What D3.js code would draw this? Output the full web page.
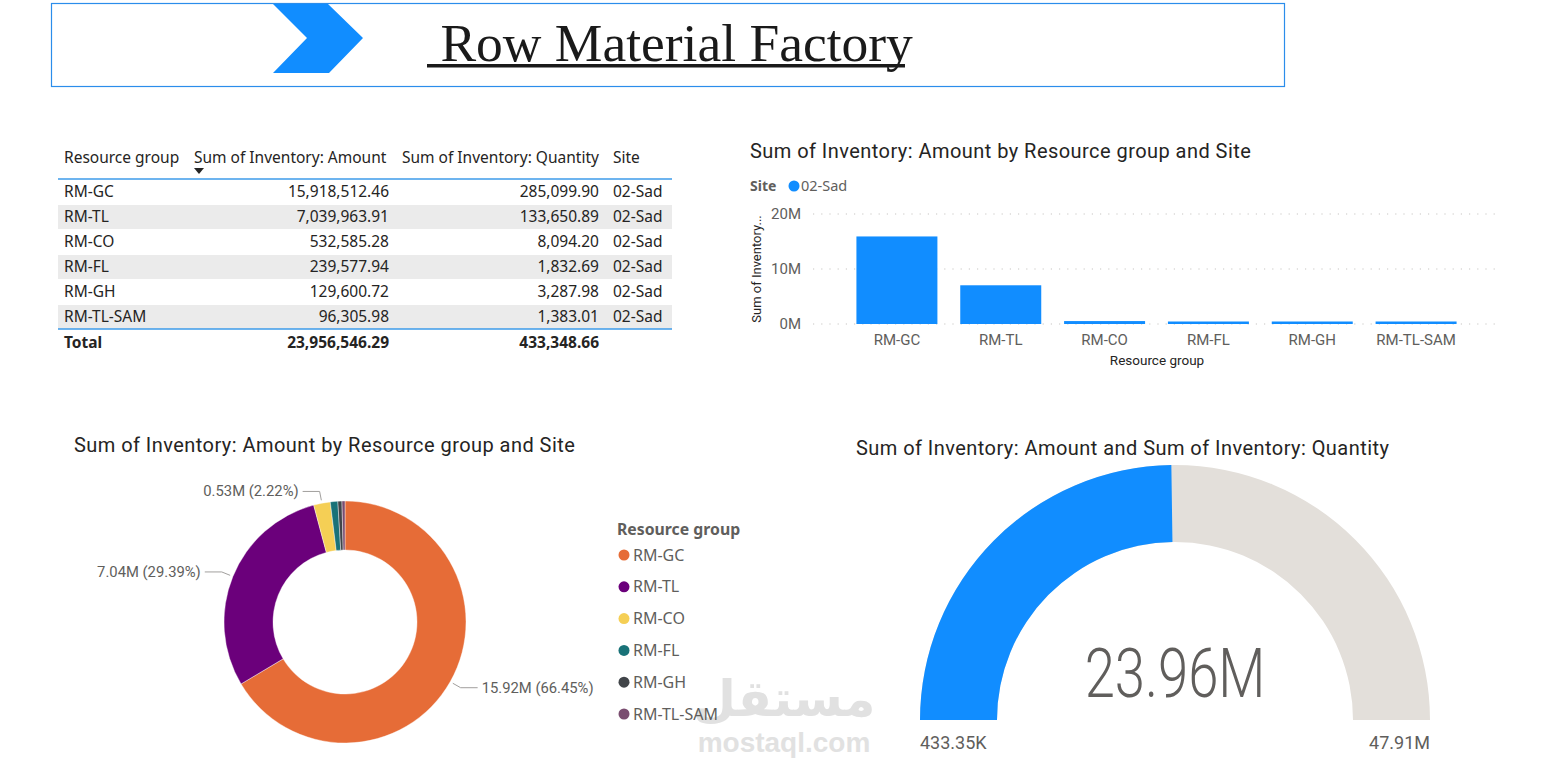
<!DOCTYPE html>
<html>
<head>
<meta charset="utf-8">
<script src="https://cdn.jsdelivr.net/npm/d3@7"></script>
<style>
  body { margin: 0; background: #fff; }
  svg { display: block; }
</style>
</head>
<body>
<div id="page"></div>
<script>
// data
var groups = ["RM-GC", "RM-TL", "RM-CO", "RM-FL", "RM-GH", "RM-TL-SAM"];
var amounts = [15918512.46, 7039963.91, 532585.28, 239577.94, 129600.72, 96305.98];
var quantities = [285099.90, 133650.89, 8094.20, 1832.69, 3287.98, 1383.01];
var sites = ["02-Sad", "02-Sad", "02-Sad", "02-Sad", "02-Sad", "02-Sad"];
var totals = [23956546.29, 433348.66];
var yTicks = [0, 10000000, 20000000];
var sliceColors = ["#E66C37", "#6B007B", "#F5CF55", "#197278", "#414549", "#7A4D70"];
var labelledSlices = ["RM-GC", "RM-TL", "RM-CO"];
var gaugeMin = 433348.66,
    gaugeMax = 47913092.58,
    gaugeValue = 23956546.29;

var W = 1563, H = 776;
var uiFont = "'Noto Sans', 'Open Sans', sans-serif";
var dinFont = "Roboto, 'Noto Sans', sans-serif";

var svg = d3.select("#page").append("svg")
    .attr("width", W)
    .attr("height", H);

// ---------------- header banner
svg.append("rect")
    .attr("x", 51.5).attr("y", 3.5)
    .attr("width", 1233).attr("height", 83)
    .attr("fill", "none")
    .attr("stroke", "#2B8DEB")
    .attr("stroke-width", 1.2);

svg.append("path")
    .attr("d", "M273,4 L328,4 L363,38 L329,73 L273,73 L307,38 Z")
    .attr("fill", "#118DFF");

svg.append("text")
    .attr("x", 427)
    .attr("y", 61)
    .attr("fill", "#1a1a1a")
    .style("font-family", "'Liberation Serif', 'Times New Roman', serif")
    .style("font-size", "53.5px")
    .style("white-space", "pre")
    .text(" Row Material Factory");
svg.append("rect")
    .attr("x", 427).attr("y", 64)
    .attr("width", 478).attr("height", 3.5)
    .attr("fill", "#1a1a1a");

// ---------------- table
var tbl = svg.append("g");
var colX = { group: 64, amount: 389, qty: 599, site: 613 };
var fmt2 = d3.format(",.2f");
var tblSize = "15.5px";

tbl.selectAll(".hdr")
    .data([["Resource group", 64], ["Sum of Inventory: Amount", 194],
           ["Sum of Inventory: Quantity", 402], ["Site", 613]])
    .enter().append("text")
    .attr("x", function(d){ return d[1]; })
    .attr("y", 163)
    .attr("fill", "#252423")
    .style("font-family", uiFont)
    .style("font-size", tblSize)
    .text(function(d){ return d[0]; });

// sort arrow
tbl.append("path")
    .attr("d", "M194,168 L204,168 L199,174 Z")
    .attr("fill", "#252423");

var rowY = d3.scaleBand().domain(groups).range([179, 329]);

tbl.selectAll(".rowBg")
    .data(groups)
    .enter().append("rect")
    .attr("x", 58)
    .attr("y", function(d){ return rowY(d) + 1; })
    .attr("width", 614)
    .attr("height", rowY.bandwidth() - 1)
    .attr("fill", function(d, i){ return i % 2 ? "#EBEBEB" : "#fff"; });

var rows = tbl.selectAll(".row")
    .data(groups)
    .enter().append("g")
    .attr("transform", function(d){ return "translate(0," + (rowY(d) + rowY.bandwidth() / 2 + 5.5) + ")"; })
    .style("font-family", uiFont)
    .style("font-size", tblSize)
    .attr("fill", "#252423");

rows.append("text").attr("x", colX.group).text(function(d){ return d; });
rows.append("text").attr("x", colX.amount).attr("text-anchor", "end")
    .text(function(d, i){ return fmt2(amounts[i]); });
rows.append("text").attr("x", colX.qty).attr("text-anchor", "end")
    .text(function(d, i){ return fmt2(quantities[i]); });
rows.append("text").attr("x", colX.site).text(function(d, i){ return sites[i]; });

tbl.append("line")
    .attr("x1", 58).attr("x2", 672).attr("y1", 179).attr("y2", 179)
    .attr("stroke", "#3C9BEA").attr("stroke-width", 1.5);
tbl.append("line")
    .attr("x1", 58).attr("x2", 672).attr("y1", 329).attr("y2", 329)
    .attr("stroke", "#3C9BEA").attr("stroke-width", 1.5);

var totalRow = tbl.append("g")
    .style("font-family", uiFont)
    .style("font-size", tblSize)
    .style("font-weight", "bold")
    .attr("fill", "#252423");
totalRow.append("text").attr("x", colX.group).attr("y", 348).text("Total");
totalRow.append("text").attr("x", colX.amount).attr("y", 348).attr("text-anchor", "end").text(fmt2(totals[0]));
totalRow.append("text").attr("x", colX.qty).attr("y", 348).attr("text-anchor", "end").text(fmt2(totals[1]));

// visual titles
function visualTitle(x0, y0, txt) {
    svg.append("text")
        .attr("x", x0).attr("y", y0)
        .attr("fill", "#252423")
        .style("font-family", dinFont)
        .style("font-size", "20px")
        .style("letter-spacing", "0.45px")
        .text(txt);
}

// ---------------- bar chart
var bar = svg.append("g");

visualTitle(750, 158, "Sum of Inventory: Amount by Resource group and Site");

bar.append("text")
    .attr("x", 750).attr("y", 191)
    .attr("fill", "#605E5C")
    .style("font-family", uiFont)
    .style("font-size", "14px")
    .style("font-weight", "bold")
    .text("Site");
bar.append("circle")
    .attr("cx", 794).attr("cy", 186).attr("r", 5.5)
    .attr("fill", "#118DFF");
bar.append("text")
    .attr("x", 801).attr("y", 191)
    .attr("fill", "#605E5C")
    .style("font-family", uiFont)
    .style("font-size", "14.5px")
    .text("02-Sad");

var x = d3.scaleBand()
    .domain(groups)
    .range([845, 1468])
    .paddingInner(0.22)
    .paddingOuter(0.11);

var y = d3.scaleLinear()
    .domain([0, 20000000])
    .range([324, 214]);

bar.selectAll(".grid")
    .data(yTicks)
    .enter().append("line")
    .attr("x1", 813).attr("x2", 1500)
    .attr("y1", function(d){ return y(d); })
    .attr("y2", function(d){ return y(d); })
    .attr("stroke", "#C8C6C4")
    .attr("stroke-width", 1.2)
    .attr("stroke-dasharray", "1.2,7");

var yAxis = d3.axisLeft(y)
    .tickValues(yTicks)
    .tickSize(0)
    .tickPadding(0)
    .tickFormat(function(d){ return (d / 1e6) + "M"; });

bar.append("g")
    .attr("transform", "translate(801,0)")
    .call(yAxis)
    .call(function(g){ g.select(".domain").remove(); })
    .selectAll("text")
    .attr("fill", "#605E5C")
    .style("font-family", dinFont)
    .style("font-size", "15px");

// tiny groups still get a visible sliver, like the report does
bar.selectAll(".bar")
    .data(groups)
    .enter().append("rect")
    .attr("x", function(d){ return x(d); })
    .attr("y", function(d, i){ return Math.min(y(amounts[i]), y(0) - 2.5); })
    .attr("width", x.bandwidth())
    .attr("height", function(d, i){ return Math.max(2.5, y(0) - y(amounts[i])); })
    .attr("fill", "#118DFF");

var xAxis = d3.axisBottom(x).tickSize(0).tickPadding(0);
bar.append("g")
    .attr("transform", "translate(0,334)")
    .call(xAxis)
    .call(function(g){ g.select(".domain").remove(); })
    .selectAll("text")
    .attr("fill", "#605E5C")
    .style("font-family", dinFont)
    .style("font-size", "15px");

bar.append("text")
    .attr("x", 1157).attr("y", 365)
    .attr("text-anchor", "middle")
    .attr("fill", "#252423")
    .style("font-family", dinFont)
    .style("font-size", "13.5px")
    .text("Resource group");

bar.append("text")
    .attr("transform", "translate(761,269) rotate(-90)")
    .attr("text-anchor", "middle")
    .attr("fill", "#252423")
    .style("font-family", dinFont)
    .style("font-size", "13px")
    .text("Sum of Inventory...");

// ---------------- donut
var donut = svg.append("g");

visualTitle(74, 452, "Sum of Inventory: Amount by Resource group and Site");

var cx = 345, cy = 622, R = 121, r0 = 72;
var pie = d3.pie().sort(null).value(function(d){ return d.v; });
var arcs = pie(groups.map(function(g, i){ return { k: g, v: amounts[i] }; }));
var arc = d3.arc().innerRadius(r0).outerRadius(R);
var color = d3.scaleOrdinal().domain(groups).range(sliceColors);

var pg = donut.append("g").attr("transform", "translate(" + cx + "," + cy + ")");
pg.selectAll(".slice")
    .data(arcs)
    .enter().append("path")
    .attr("d", arc)
    .attr("fill", function(d){ return color(d.data.k); })
    .attr("stroke", "#fff")
    .attr("stroke-width", 0.4);

var total = d3.sum(amounts);
var lab = arcs.filter(function(d){ return labelledSlices.indexOf(d.data.k) >= 0; });
lab.forEach(function(d){
    var a = (d.startAngle + d.endAngle) / 2;
    var p1 = [Math.sin(a) * (R + 3), -Math.cos(a) * (R + 3)];
    var p2 = [Math.sin(a) * (R + 12), -Math.cos(a) * (R + 12)];
    var right = Math.sin(a) > 0;
    var p3 = [p2[0] + (right ? 17 : -17), p2[1]];
    pg.append("polyline")
        .attr("points", [p1, p2, p3].map(function(p){ return p.join(","); }).join(" "))
        .attr("fill", "none")
        .attr("stroke", "#A19F9D")
        .attr("stroke-width", 1);
    pg.append("text")
        .attr("x", p3[0] + (right ? 4 : -4))
        .attr("y", p3[1] + 5)
        .attr("text-anchor", right ? "start" : "end")
        .attr("fill", "#605E5C")
        .style("font-family", dinFont)
        .style("font-size", "14.8px")
        .text(d3.format(".2f")(d.data.v / 1e6) + "M (" + d3.format(".2%")(d.data.v / total) + ")");
});

var leg = donut.append("g");
leg.append("text")
    .attr("x", 617).attr("y", 535)
    .attr("fill", "#605E5C")
    .style("font-family", uiFont)
    .style("font-size", "15.8px")
    .style("font-weight", "bold")
    .text("Resource group");
var legY = d3.scalePoint().domain(groups).range([555, 714]);
var li = leg.selectAll(".li")
    .data(groups)
    .enter().append("g")
    .attr("transform", function(d){ return "translate(624," + legY(d) + ")"; });
li.append("circle").attr("r", 5.5).attr("fill", function(d){ return color(d); });
li.append("text")
    .attr("x", 9).attr("y", 5.5)
    .attr("fill", "#605E5C")
    .style("font-family", uiFont)
    .style("font-size", "16px")
    .text(function(d){ return d; });

// ---------------- gauge
var gauge = svg.append("g");
visualTitle(856, 455, "Sum of Inventory: Amount and Sum of Inventory: Quantity");

var gx = 1175, gy = 720, gR = 255, gr = 178;
var ang = d3.scaleLinear().domain([gaugeMin, gaugeMax]).range([-Math.PI / 2, Math.PI / 2]);
var garc = d3.arc().innerRadius(gr).outerRadius(gR);
var gg = gauge.append("g").attr("transform", "translate(" + gx + "," + gy + ")");
gg.append("path")
    .attr("d", garc({ startAngle: -Math.PI / 2, endAngle: Math.PI / 2 }))
    .attr("fill", "#E3DFDA");
gg.append("path")
    .attr("d", garc({ startAngle: -Math.PI / 2, endAngle: ang(gaugeValue) }))
    .attr("fill", "#118DFF");

var fmtM = function(v){ return d3.format(".2f")(v / 1e6) + "M"; };
gg.append("text")
    .attr("transform", "translate(0,-23) scale(0.8,1)")
    .attr("text-anchor", "middle")
    .attr("fill", "#605E5C")
    .style("font-family", dinFont)
    .style("font-weight", 300)
    .style("font-size", "68px")
    .text(fmtM(gaugeValue));
gg.append("text")
    .attr("x", -gR).attr("y", 29)
    .attr("fill", "#605E5C")
    .style("font-family", dinFont)
    .style("font-size", "18px")
    .text(d3.format(".2f")(gaugeMin / 1e3) + "K");
gg.append("text")
    .attr("x", gR).attr("y", 29)
    .attr("text-anchor", "end")
    .attr("fill", "#605E5C")
    .style("font-family", dinFont)
    .style("font-size", "18px")
    .text(fmtM(gaugeMax));

// ---------------- site watermark (sits behind the legend end, as in the screenshot)
var wm = svg.insert("g", ":first-child").attr("fill", "#DADADA").attr("opacity", 0.8);
wm.append("text")
    .attr("x", 784).attr("y", 716)
    .attr("text-anchor", "middle")
    .style("font-family", "'DejaVu Sans', sans-serif")
    .style("font-weight", "bold")
    .style("font-size", "50px")
    .text("مستقل");
wm.append("text")
    .attr("x", 784).attr("y", 752)
    .attr("text-anchor", "middle")
    .style("font-family", "'Liberation Sans', Arial, sans-serif")
    .style("font-weight", "bold")
    .style("font-size", "28px")
    .text("mostaql.com");
</script>
</body>
</html>
